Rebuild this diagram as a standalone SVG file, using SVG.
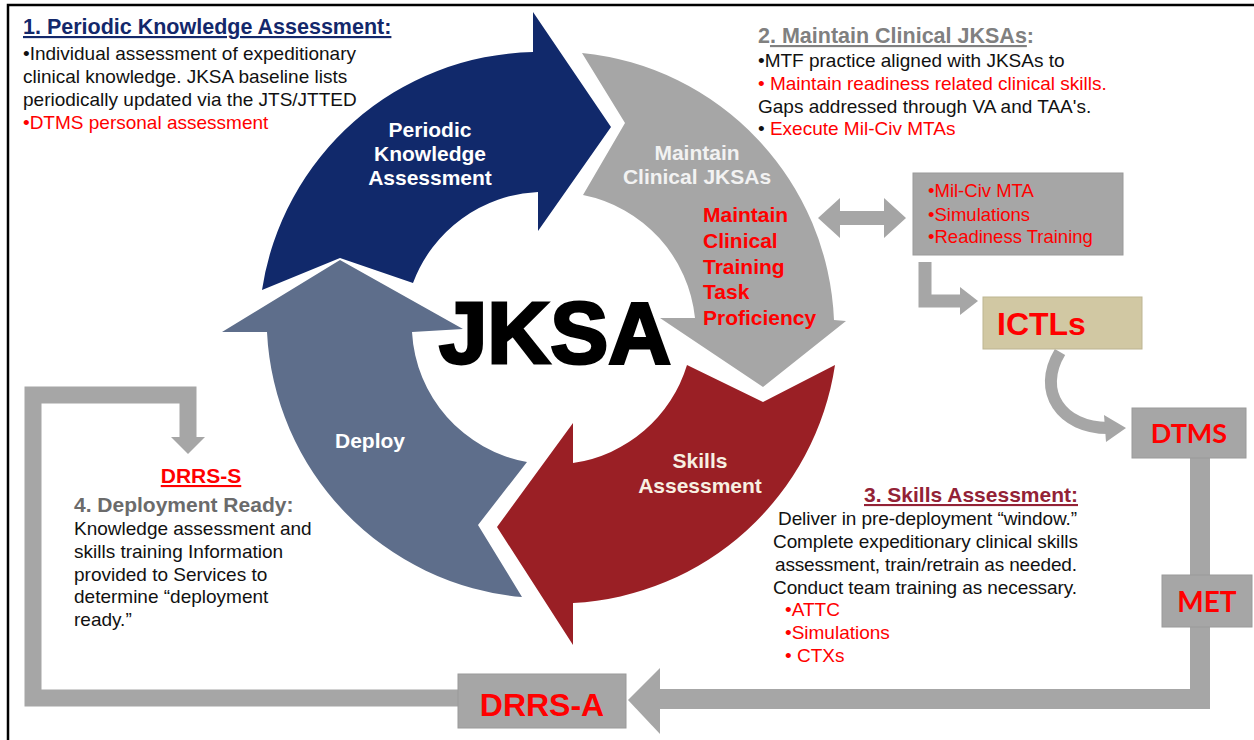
<svg xmlns="http://www.w3.org/2000/svg" width="1254" height="740" viewBox="0 0 1254 740">
<style>
text{font-family:"Liberation Sans",Arial,sans-serif}
.b{font-weight:bold}
.body{font-size:19px;fill:#111}
.red{fill:#ff0000}
.lbl{font-size:21px;font-weight:bold;text-anchor:middle}
.box{fill:#a6a6a6;stroke:#9a9a9a;stroke-width:1}
.conn{fill:none;stroke:#a6a6a6}
.head{fill:#a6a6a6}
.cal{font-family:Lato,"Liberation Sans",sans-serif;font-weight:bold;fill:#ff0000}
</style>
<rect x="0" y="0" width="1254" height="740" fill="#fff"/>
<path d="M8,740 V5 H1254" fill="none" stroke="#000" stroke-width="2.5"/>

<g id="connectors">
  <polygon class="head" points="818,218 840,198 840,211 884,211 884,198 906,218 884,238 884,225 840,225 840,238"/>
  <path class="conn" d="M925,262 V301 H962" stroke-width="13"/>
  <polygon class="head" points="960,287 978,301 960,315"/>
  <path class="conn" d="M1060,352 C1036,392 1062,428 1108,428" stroke-width="12"/>
  <polygon class="head" points="1104,415 1126,428 1106,442"/>
  <path class="conn" d="M1200,458 V699 H655" stroke-width="20"/>
  <polygon class="head" points="628,700 660,668 660,734"/>
  <path class="conn" d="M458,698 H33 V395 H188 V440" stroke-width="17"/>
  <polygon class="head" points="171,437 205,437 188,454"/>
</g>

<g id="arrow-periodic">
  <path d="M262,290 A280,280 0 0 1 533,52 L533,12 L611,127 L538,231 L538,192 A140,140 0 0 0 413,283 L340,258 Z" fill="#11296b"/>
  <text class="lbl" fill="#fff" x="430" y="137">Periodic</text>
  <text class="lbl" fill="#fff" x="430" y="161">Knowledge</text>
  <text class="lbl" fill="#fff" x="430" y="185">Assessment</text>
</g>

<g id="arrow-maintain">
  <path d="M582,53 A280,280 0 0 1 834,320 L846,321 L763,387 L660,318 L695,318 A140,140 0 0 0 583,195 L625,123 Z" fill="#a6a6a6"/>
  <text class="lbl" fill="#f2f2f2" x="697" y="160">Maintain</text>
  <text class="lbl" fill="#f2f2f2" x="697" y="184">Clinical JKSAs</text>
  <text class="b red" font-size="21" x="703" y="222">Maintain</text>
  <text class="b red" font-size="21" x="703" y="248">Clinical</text>
  <text class="b red" font-size="21" x="703" y="274">Training</text>
  <text class="b red" font-size="21" x="703" y="299">Task</text>
  <text class="b red" font-size="21" x="703" y="325">Proficiency</text>
</g>

<g id="arrow-skills">
  <path d="M835,365 A280,280 0 0 1 573,603 L573,645 L497,527 L573,423 L573,463 A140,140 0 0 0 687,365 L763,402 Z" fill="#9a1f25"/>
  <text class="lbl" fill="#f7f0e2" x="700" y="468">Skills</text>
  <text class="lbl" fill="#f7f0e2" x="700" y="493">Assessment</text>
</g>

<g id="arrow-deploy">
  <path d="M522,597 A280,280 0 0 1 267,332 L222,332 L340,260 L463,329 L412,332 A140,140 0 0 0 527,462 L478,525 Z" fill="#5e6e8b"/>
  <text class="lbl" fill="#fff" x="370" y="448">Deploy</text>
</g>

<g id="center-label">
  <text x="555" y="363" font-size="87" font-weight="bold" text-anchor="middle" fill="#000" stroke="#000" stroke-width="3">JKSA</text>
</g>

<g id="text-periodic">
  <text class="b" x="23" y="34" font-size="21.5" fill="#13286b" text-decoration="underline">1. Periodic Knowledge Assessment:</text>
  <text class="body" x="23" y="60">•Individual assessment of expeditionary</text>
  <text class="body" x="23" y="83">clinical knowledge. JKSA baseline lists</text>
  <text class="body" x="23" y="106">periodically updated via the JTS/JTTED</text>
  <text class="body red" x="23" y="129">•DTMS personal assessment</text>
</g>

<g id="text-maintain">
  <text class="b" x="758" y="43" font-size="21.5" fill="#808080"><tspan>2</tspan><tspan text-decoration="underline">. Maintain Clinical JKSAs</tspan><tspan>:</tspan></text>
  <text class="body" x="758" y="67">•MTF practice aligned with JKSAs to</text>
  <text class="body red" x="758" y="90">• Maintain readiness related clinical skills.</text>
  <text class="body" x="758" y="113">Gaps addressed through VA and TAA's.</text>
  <text class="body" x="758" y="135">• <tspan fill="#ff0000">Execute Mil-Civ MTAs</tspan></text>
</g>

<g id="text-skills">
  <text class="b" x="1078" y="502" font-size="21" fill="#932236" text-anchor="end" text-decoration="underline">3. Skills Assessment:</text>
  <text class="body" x="778" y="525" textLength="299" lengthAdjust="spacing">Deliver in pre-deployment “window.”</text>
  <text class="body" x="773" y="548" textLength="305" lengthAdjust="spacing">Complete expeditionary clinical skills</text>
  <text class="body" x="775" y="571" textLength="302" lengthAdjust="spacing">assessment, train/retrain as needed.</text>
  <text class="body" x="773" y="594" textLength="304" lengthAdjust="spacing">Conduct team training as necessary.</text>
  <text class="body red" x="785" y="616">•ATTC</text>
  <text class="body red" x="785" y="639">•Simulations</text>
  <text class="body red" x="785" y="662">• CTXs</text>
</g>

<g id="text-deploy">
  <text class="b red" x="201" y="483" font-size="21" text-anchor="middle" text-decoration="underline">DRRS-S</text>
  <text class="b" x="74" y="512" font-size="21" fill="#6b6b6b">4. Deployment Ready:</text>
  <text class="body" x="74" y="535">Knowledge assessment and</text>
  <text class="body" x="74" y="558">skills training Information</text>
  <text class="body" x="74" y="581">provided to Services to</text>
  <text class="body" x="74" y="603">determine “deployment</text>
  <text class="body" x="74" y="626">ready.”</text>
</g>

<g id="box-milciv">
  <rect class="box" x="913" y="173" width="210" height="82"/>
  <text class="red" font-size="18.5" x="928" y="197">•Mil-Civ MTA</text>
  <text class="red" font-size="18.5" x="928" y="221">•Simulations</text>
  <text class="red" font-size="18.5" x="928" y="243">•Readiness Training</text>
</g>

<g id="box-ictls">
  <rect x="983" y="297" width="159" height="52" fill="#d1c8a3" stroke="#bdb592" stroke-width="1"/>
  <text class="b red" font-size="32" x="997" y="335">ICTLs</text>
</g>

<g id="box-dtms">
  <rect class="box" x="1132" y="408" width="114" height="50"/>
  <text class="cal" font-size="27" x="1189" y="443" text-anchor="middle">DTMS</text>
</g>

<g id="box-met">
  <rect class="box" x="1162" y="575" width="90" height="52"/>
  <text class="cal" font-size="28" x="1207" y="612" text-anchor="middle">MET</text>
</g>

<g id="box-drrsa">
  <rect class="box" x="458" y="674" width="168" height="54"/>
  <text class="b red" font-size="32" x="542" y="716" text-anchor="middle">DRRS-A</text>
</g>
</svg>
